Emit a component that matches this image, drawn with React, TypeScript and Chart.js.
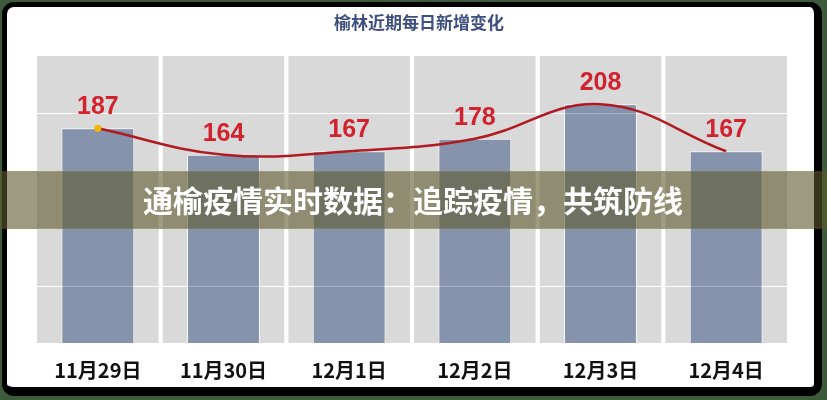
import React, { useEffect, useRef } from "react";
import { Chart, registerables } from "chart.js";

Chart.register(...registerables);

const categories = ["11月29日", "11月30日", "12月1日", "12月2日", "12月3日", "12月4日"];
const dailyNew = [187, 164, 167, 178, 208, 167];
const gridValues = [50, 100, 150, 200];
const yMin = 0;
const yMax = 250;
const chartTitle = "榆林近期每日新增变化";
const bannerText = "通榆疫情实时数据：追踪疫情，共筑防线";

const CJK = '"Noto Sans CJK SC", "Noto Sans", sans-serif';

const decorPlugin = {
  id: "decor",
  beforeDatasetsDraw(chart: any) {
    const { ctx, scales } = chart;
    const x = scales.x;
    const y = scales.y;
    const step = x.getPixelForValue(1) - x.getPixelForValue(0);
    const w = step * 0.967;
    const top = y.getPixelForValue(yMax);
    const bottom = y.getPixelForValue(yMin);
    ctx.save();
    ctx.fillStyle = "#d9d9d9";
    categories.forEach((_, i) => {
      const cx = x.getPixelForValue(i);
      ctx.fillRect(cx - w / 2, top, w, bottom - top);
    });
    ctx.strokeStyle = "#ffffff";
    ctx.lineWidth = 1.2;
    gridValues.forEach((v) => {
      const py = Math.round(y.getPixelForValue(v)) + 0.5;
      ctx.beginPath();
      ctx.moveTo(chart.chartArea.left, py);
      ctx.lineTo(chart.chartArea.right, py);
      ctx.stroke();
    });
    ctx.restore();
  },
  afterDatasetDraw(chart: any, args: any) {
    if (args.index !== 0) return;
    const { ctx, scales } = chart;
    const y = scales.y;
    ctx.save();
    ctx.strokeStyle = "rgba(255,255,255,0.3)";
    ctx.lineWidth = 1.2;
    gridValues.forEach((v) => {
      const py = Math.round(y.getPixelForValue(v)) + 0.5;
      ctx.beginPath();
      ctx.moveTo(chart.chartArea.left, py);
      ctx.lineTo(chart.chartArea.right, py);
      ctx.stroke();
    });
    ctx.restore();
  },
  afterDatasetsDraw(chart: any) {
    const { ctx } = chart;
    const meta = chart.getDatasetMeta(0);
    ctx.save();
    ctx.fillStyle = "#d2222d";
    ctx.font = 'bold 25px "Liberation Sans", Arial, sans-serif';
    ctx.textAlign = "center";
    ctx.textBaseline = "middle";
    meta.data.forEach((el: any, i: number) => {
      ctx.fillText(String(dailyNew[i]), el.x, el.y - 21);
    });
    ctx.restore();
  },
  afterDraw(chart: any) {
    const { ctx } = chart;
    ctx.save();
    ctx.textAlign = "center";
    ctx.textBaseline = "middle";
    ctx.fillStyle = "#3d4f7e";
    ctx.font = `bold 17px ${CJK}`;
    ctx.fillText(chartTitle, 419, 23);
    ctx.fillStyle = "rgba(95, 88, 45, 0.6)";
    ctx.fillRect(0, 171, 827, 58);
    ctx.fillStyle = "#ffffff";
    ctx.font = `bold 30px ${CJK}`;
    ctx.fillText(bannerText, 413, 201);
    ctx.restore();
  },
};

export default function App() {
  const canvasRef = useRef<HTMLCanvasElement | null>(null);

  useEffect(() => {
    const canvas = canvasRef.current;
    if (!canvas) return;
    const chart = new Chart(canvas, {
      type: "bar",
      data: {
        labels: categories,
        datasets: [
          {
            type: "bar",
            data: dailyNew,
            backgroundColor: "#8693ad",
            borderColor: "rgba(255,255,255,0.85)",
            borderWidth: 1,
            categoryPercentage: 1,
            barPercentage: 0.58,
            order: 2,
          } as any,
          {
            type: "line",
            data: dailyNew,
            borderColor: "#b01b22",
            borderWidth: 2.5,
            tension: 0.4,
            pointRadius: [3.5, 0, 0, 0, 0, 0],
            pointBackgroundColor: "#f4b400",
            pointBorderWidth: 0,
            order: 1,
          } as any,
        ],
      },
      options: {
        responsive: false,
        animation: false,
        devicePixelRatio: 1,
        layout: { padding: { left: 35, right: 38, top: 56, bottom: 0 } },
        plugins: {
          legend: { display: false },
          tooltip: { enabled: false },
          title: { display: false },
        },
        scales: {
          x: {
            grid: { display: false },
            border: { display: false },
            ticks: {
              padding: 7,
              color: "#111111",
              autoSkip: false,
              maxRotation: 0,
              font: { family: CJK, size: 20, weight: "bold" },
            },
            afterFit: (s: any) => {
              s.height = 57;
            },
          },
          y: { display: false, min: yMin, max: yMax },
        },
      } as any,
      plugins: [decorPlugin],
    });
    return () => chart.destroy();
  }, []);

  return (
    <div
      style={{
        position: "absolute",
        left: 0,
        top: 0,
        width: 827,
        height: 400,
        background: "#3d5a3b",
        overflow: "hidden",
      }}
    >
      <div
        style={{
          position: "absolute",
          left: 2,
          top: 2,
          width: 820,
          height: 394,
          boxSizing: "border-box",
          borderStyle: "solid",
          borderColor: "#000",
          borderWidth: "5px 8px 9px 5px",
          borderRadius: 12,
          background: "#fff",
        }}
      />
      <canvas
        ref={canvasRef}
        width={827}
        height={400}
        style={{ position: "absolute", left: 0, top: 0, display: "block" }}
      />
    </div>
  );
}
